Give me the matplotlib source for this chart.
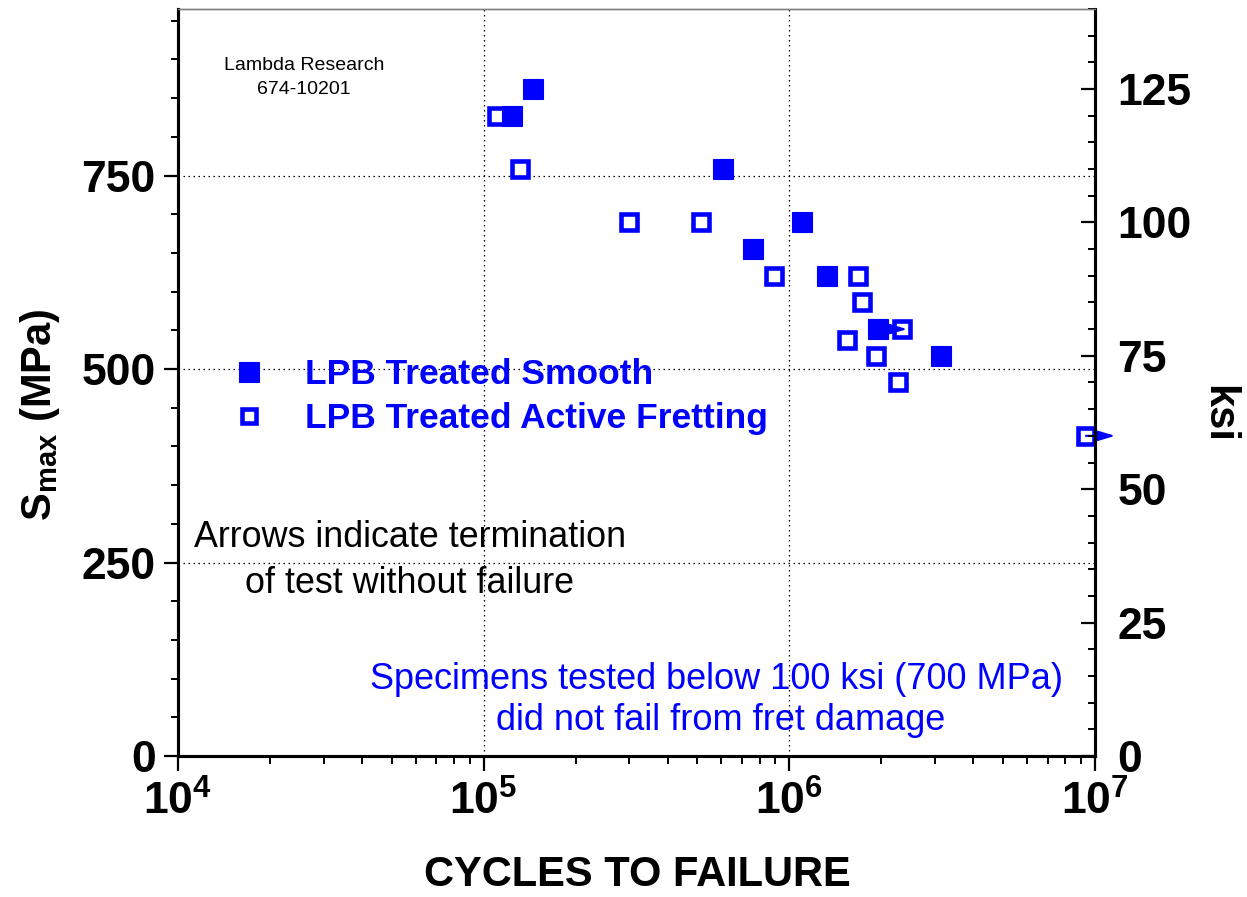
import numpy as np
import matplotlib.pyplot as plt
from matplotlib import font_manager
from matplotlib.ticker import MultipleLocator, LogLocator, FuncFormatter, NullFormatter
from matplotlib.transforms import offset_copy

MPA_PER_KSI = 6.894757

# LPB treated smooth
smooth_cycles = [1.45e5, 1.24e5, 6.08e5, 1.10e6, 7.61e5, 1.33e6, 1.95e6, 3.14e6]
smooth_ksi = [125, 120, 110, 100, 95, 90, 80, 75]
smooth_runout = [False, False, False, False, False, False, True, False]

# LPB treated active fretting
fret_cycles = [1.11e5, 1.32e5, 3.00e5, 5.15e5, 8.90e5, 1.68e6, 1.73e6,
               2.33e6, 1.55e6, 1.92e6, 2.27e6, 9.34e6]
fret_ksi = [120, 110, 100, 100, 90, 90, 85, 80, 78, 75, 70, 60]
fret_runout = [False] * 11 + [True]

plt.rcParams['font.family'] = ['Liberation Sans', 'DejaVu Sans']
plt.rcParams['mathtext.fontset'] = 'custom'
plt.rcParams['mathtext.rm'] = 'Liberation Sans'
plt.rcParams['mathtext.bf'] = 'Liberation Sans:bold'
plt.rcParams['mathtext.it'] = 'Liberation Sans:italic'

names = {f.name for f in font_manager.fontManager.ttflist}
narrow = 'Liberation Sans Narrow' in names
if narrow:
    cond_family = ['Liberation Sans Narrow', 'Liberation Sans']
    xlab_size, leg_size, hl, htp = 34, 27, 1.0, 1.0
else:
    cond_family = ['Liberation Sans']
    xlab_size, leg_size, hl, htp = 30, 25.5, 1.2, 0.99

fig = plt.figure(figsize=(12.47, 8.97), dpi=100)
ax = fig.add_axes([0.1427, 0.1572, 0.7354, 0.8328])
ax2 = ax.twinx()

blue = '#0000ff'
fret_mpa = np.array(fret_ksi) * MPA_PER_KSI
smooth_mpa = np.array(smooth_ksi) * MPA_PER_KSI

h_fret, = ax.plot(fret_cycles, fret_mpa, ls='none', marker='s', ms=11,
                  mfc='white', mec=blue, mew=3.3, zorder=3)
h_smooth, = ax.plot(smooth_cycles, smooth_mpa, ls='none', marker='s', ms=14.5,
                    mfc=blue, mec=blue, mew=0.8, zorder=4)

# runout arrows
tip = offset_copy(ax.transData, fig=fig, x=21, y=0, units='points')
for c, s, r in list(zip(smooth_cycles, smooth_mpa, smooth_runout)) + \
        list(zip(fret_cycles, fret_mpa, fret_runout)):
    if r:
        ax.annotate('', xy=(c, s), xycoords=tip, xytext=(c, s), textcoords='data',
                    arrowprops=dict(arrowstyle='-|>,head_length=0.5,head_width=0.15',
                                    color=blue, lw=1.5, mutation_scale=20,
                                    shrinkA=0, shrinkB=0),
                    annotation_clip=False, zorder=5)

ax.set_xscale('log')
ax.set_xlim(1e4, 1e7)
ax.set_ylim(0, 140 * MPA_PER_KSI)
ax2.set_ylim(0, 140)

ax.xaxis.set_major_locator(LogLocator(base=10, numticks=10))
ax.xaxis.set_minor_locator(LogLocator(base=10, subs=np.arange(2, 10), numticks=20))
ax.xaxis.set_minor_formatter(NullFormatter())
ax.xaxis.set_major_formatter(FuncFormatter(lambda v, p: r'$\mathbf{10^{%d}}$' % round(np.log10(v))))
ax.yaxis.set_major_locator(MultipleLocator(250))
ax.yaxis.set_minor_locator(MultipleLocator(50))
ax2.yaxis.set_major_locator(MultipleLocator(25))
ax2.yaxis.set_minor_locator(MultipleLocator(5))

ax.tick_params(axis='y', which='major', direction='out', length=10, width=1.6,
               labelsize=32, pad=6)
ax.tick_params(axis='y', which='minor', direction='out', length=5, width=1.4)
ax.tick_params(axis='x', which='major', direction='out', length=11, width=1.6,
               labelsize=32, pad=7)
ax.tick_params(axis='x', which='minor', direction='out', length=6, width=1.4)
ax2.tick_params(axis='y', which='major', direction='in', length=10, width=1.6,
                labelsize=32, pad=16)
ax2.tick_params(axis='y', which='minor', direction='in', length=5, width=1.4)
for t in ax.get_yticklabels() + ax2.get_yticklabels():
    t.set_fontweight('bold')

for a in (ax, ax2):
    for side in ('left', 'bottom', 'right'):
        a.spines[side].set_linewidth(2.2)
    a.spines['top'].set_linewidth(1.0)
    a.spines['top'].set_color('#808080')

ax.grid(True, which='major', color='black', lw=0.9, ls=(0, (1.2, 2.8)))

ax.set_xlabel('CYCLES TO FAILURE', fontsize=xlab_size, fontweight='bold', family=cond_family)
ax.xaxis.set_label_coords(0.501, -0.159)
ax.xaxis.label.set_verticalalignment('center')

ax.set_ylabel(r'$\mathbf{S_{max}}$ (MPa)', fontsize=30, fontweight='bold')
ax.yaxis.set_label_coords(-0.1505, 0.457)
ax.yaxis.label.set_verticalalignment('center')

ax2.set_ylabel('ksi', rotation=270, fontsize=30, fontweight='bold')
ax2.yaxis.set_label_coords(1.134, 0.458)
ax2.yaxis.label.set_verticalalignment('center')

leg = ax.legend([h_smooth, h_fret], ['LPB Treated Smooth', 'LPB Treated Active Fretting'],
                loc='center left', bbox_to_anchor=(0.0545, 0.481), frameon=False,
                prop=dict(family=cond_family, weight='bold', size=leg_size),
                labelcolor=blue, handlelength=hl, handletextpad=htp,
                labelspacing=0.3, borderpad=0, borderaxespad=0, markerscale=0.95)

ax.text(0.1374, 0.9183, 'Lambda Research', transform=ax.transAxes, ha='center',
        va='baseline', fontsize=14)
ax.text(0.1374, 0.8862, '674-10201', transform=ax.transAxes, ha='center',
        va='baseline', fontsize=14)

ax.text(0.253, 0.2798, 'Arrows indicate termination', transform=ax.transAxes,
        ha='center', va='baseline', fontsize=25.8)
ax.text(0.253, 0.2182, 'of test without failure', transform=ax.transAxes,
        ha='center', va='baseline', fontsize=25.8)

ax.text(0.5878, 0.0897, 'Specimens tested below 100 ksi (700 MPa)', transform=ax.transAxes,
        ha='center', va='baseline', fontsize=26, color=blue)
ax.text(0.592, 0.0348, 'did not fail from fret damage', transform=ax.transAxes,
        ha='center', va='baseline', fontsize=26, color=blue)

fig.savefig('out.png', dpi=100)
